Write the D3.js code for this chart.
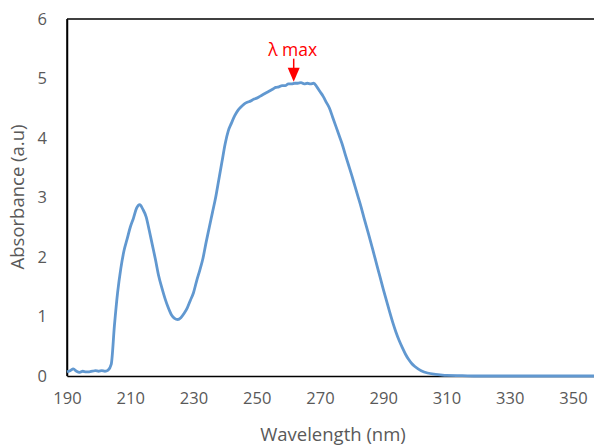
<!DOCTYPE html>
<html>
<head>
<meta charset="utf-8">
<script src="https://cdn.jsdelivr.net/npm/d3@7"></script>
<style>
  body { margin: 0; background: white; }
  svg { display: block; }
</style>
</head>
<body>
<div id="chart"></div>
<script>
// wavelength (nm) and absorbance
const wavelength = [190, 191, 192, 193, 194, 195, 196, 197, 198, 199, 200, 201, 202, 203, 204,
  205, 206, 207, 208, 209, 210, 211, 212, 213, 214, 215, 216, 217, 218, 219, 220, 221, 222, 223,
  224, 225, 226, 227, 228, 229, 230, 231, 232, 233, 234, 235, 236, 237, 238, 239, 240, 241, 242,
  243, 244, 245, 246, 247, 248, 249, 250, 251, 252, 253, 254, 255, 256, 257, 258, 259, 260, 261,
  262, 263, 264, 265, 266, 267, 268, 269, 270, 271, 272, 273, 274, 275, 276, 277, 278, 279, 280,
  281, 282, 283, 284, 285, 286, 287, 288, 289, 290, 291, 292, 293, 294, 295, 296, 297, 298, 299,
  300, 302, 304, 306, 308, 310, 315, 320, 330, 340, 350, 360];
const absorbance = [0.07, 0.09, 0.12, 0.08, 0.06, 0.08, 0.07, 0.07, 0.08, 0.09, 0.08, 0.09, 0.08, 0.1, 0.2,
  0.85, 1.4, 1.8, 2.1, 2.3, 2.5, 2.65, 2.82, 2.88, 2.8, 2.68, 2.45, 2.2, 1.95, 1.68, 1.48, 1.3, 1.15, 1.03,
  0.97, 0.95, 0.98, 1.05, 1.14, 1.27, 1.4, 1.6, 1.78, 1.98, 2.25, 2.5, 2.75, 3.0, 3.3, 3.6, 3.9, 4.12, 4.25,
  4.37, 4.46, 4.52, 4.57, 4.6, 4.62, 4.65, 4.67, 4.7, 4.73, 4.76, 4.79, 4.82, 4.85, 4.86, 4.88, 4.88, 4.91, 4.91,
  4.92, 4.92, 4.93, 4.91, 4.92, 4.91, 4.92, 4.86, 4.78, 4.7, 4.6, 4.5, 4.35, 4.2, 4.05, 3.9, 3.72, 3.55, 3.38,
  3.2, 3.02, 2.84, 2.64, 2.45, 2.26, 2.06, 1.86, 1.66, 1.46, 1.27, 1.08, 0.9, 0.74, 0.6, 0.48, 0.37, 0.28, 0.21,
  0.16, 0.09, 0.05, 0.03, 0.02, 0.01, 0.005, 0, 0, 0, 0, 0];

const xTicks = [190, 210, 230, 250, 270, 290, 310, 330, 350];
const yTicks = [0, 1, 2, 3, 4, 5, 6];

// peak marker
const peakLabel = 'λ max';
const peakWavelength = 262;
const peakValue = 4.93;

let width = 594,
    height = 446;

let margin = { top: 19, bottom: 70, left: 67, right: 0 };

let svg = d3.select('#chart')
            .append('svg')
            .attr('width', width)
            .attr('height', height)
            .style('font-family', "'Open Sans', sans-serif");

// 20 nm spans about 63 px; the right side of the axis runs off the picture
let xScale = d3.scaleLinear()
            .domain([190, 360])
            .range([margin.left, margin.left + 170 * 3.1625]);

let yScale = d3.scaleLinear()
            .domain([0, 6])
            .range([height - margin.bottom, margin.top]);

// box round the plot area
let plotRight = xScale(360);
svg.append('line')
    .attr('x1', margin.left).attr('x2', plotRight)
    .attr('y1', yScale(6)).attr('y2', yScale(6))
    .attr('stroke', 'black').attr('stroke-width', 1.5);
svg.append('line')
    .attr('x1', margin.left).attr('x2', margin.left)
    .attr('y1', yScale(6)).attr('y2', yScale(0))
    .attr('stroke', 'black').attr('stroke-width', 1.5);

// axes
let xAxis = svg.append('g')
            .attr('transform', `translate(0, ${yScale(0)})`)
            .call(d3.axisBottom(xScale).tickValues(xTicks).tickSize(0).tickPadding(16));

let yAxis = svg.append('g')
            .attr('transform', `translate(${margin.left}, 0)`)
            .call(d3.axisLeft(yScale).tickValues(yTicks).tickFormat(d3.format('d')).tickSize(0).tickPadding(20));

[xAxis, yAxis].forEach(function(ax) {
    ax.select('.domain').attr('stroke', 'black').attr('stroke-width', 1.5);
    ax.selectAll('text')
        .style('font-size', '16.5px')
        .style('font-family', "'Open Sans', sans-serif")
        .attr('fill', '#595959');
});

// spectrum line
let points = wavelength.map((w, i) => [w, absorbance[i]]);
let line = d3.line()
            .x(d => xScale(d[0]))
            .y(d => yScale(d[1]))
            .curve(d3.curveMonotoneX);

svg.append('path')
    .datum(points)
    .attr('d', line)
    .attr('fill', 'none')
    .attr('stroke', '#6198d0')
    .attr('stroke-width', 2.8)
    .attr('stroke-linejoin', 'round');

// axis titles
svg.append('text')
    .attr('x', 333)
    .attr('y', 441)
    .text('Wavelength (nm)')
    .style('text-anchor', 'middle')
    .style('font-size', '18.5px')
    .attr('fill', '#595959');

svg.append('text')
    .attr('transform', 'translate(24, 197) rotate(-90)')
    .text('Absorbance (a.u)')
    .style('text-anchor', 'middle')
    .style('font-size', '18.5px')
    .attr('fill', '#595959');

// lambda max arrow and label
let px = xScale(peakWavelength) - 1;
let py = yScale(peakValue);
svg.append('line')
    .attr('x1', px).attr('x2', px)
    .attr('y1', py - 24).attr('y2', py - 14)
    .attr('stroke', '#ff0000').attr('stroke-width', 1.5);
svg.append('path')
    .attr('d', `M${px - 6},${py - 15} L${px + 6},${py - 15} L${px},${py - 1} Z`)
    .attr('fill', '#ff0000');
svg.append('text')
    .attr('x', px - 1)
    .attr('y', py - 27)
    .text(peakLabel)
    .style('text-anchor', 'middle')
    .style('font-size', '17.5px')
    .attr('fill', '#ff0000');
</script>
</body>
</html>
